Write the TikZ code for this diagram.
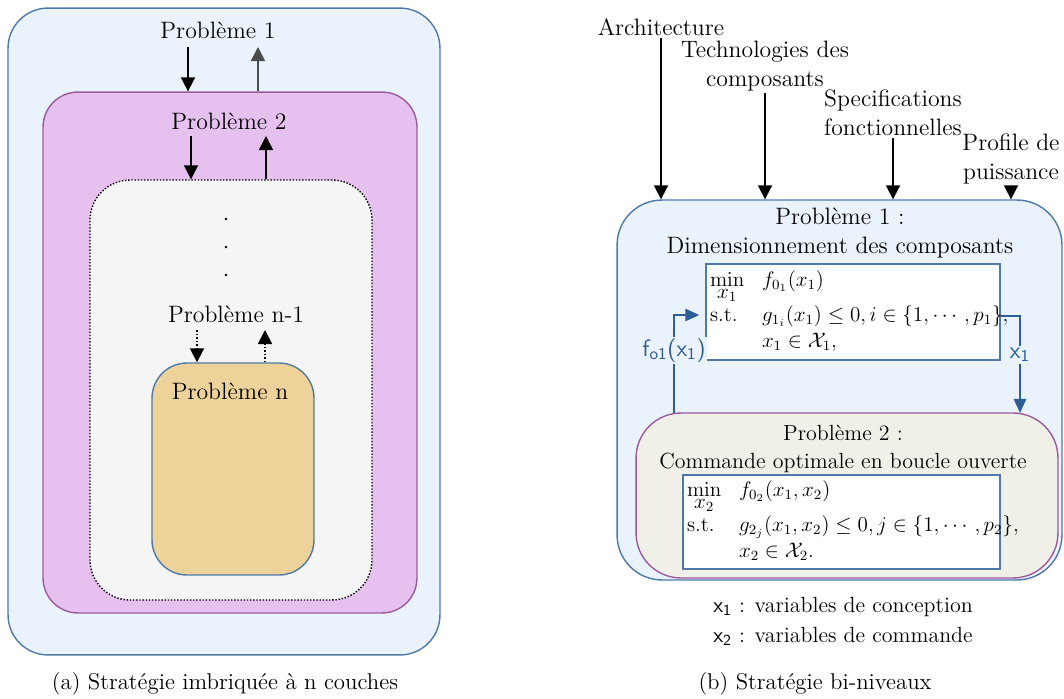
\documentclass[tikz,border=0pt]{standalone}
\usepackage{amsmath}
\usepackage{amssymb}
\usepackage{xcolor}
\usepackage{tikz}
\usetikzlibrary{arrows.meta, positioning, calc}
\definecolor{fondbleu}{HTML}{EAF2FC}
\definecolor{bordbleu}{HTML}{4F7AA8}
\definecolor{fondmauve}{HTML}{E6C1F0}
\definecolor{bordmauve}{HTML}{9C5B9E}
\definecolor{fondgris}{HTML}{F5F5F5}
\definecolor{fondsable}{HTML}{EDD399}
\definecolor{fondbeige}{HTML}{F1F0E8}
\definecolor{bleufleche}{HTML}{2E5E95}
\newcommand{\gtxt}{\fontsize{13.5}{16.5}\selectfont}
\newcommand{\ptxt}{\fontsize{12.5}{15.5}\selectfont}
\newcommand{\mtxt}{\fontsize{12}{14}\selectfont}

\begin{document}
\begin{tikzpicture}[x=0.02cm, y=-0.02cm,
  boite/.style={draw, line width=0.8pt, rounded corners=0.8cm, inner sep=0pt},
  optbox/.style={draw=bordbleu, fill=white, line width=0.8pt, inner sep=0.08cm, align=left, font=\mtxt},
  lbl/.style={font=\gtxt, inner sep=1pt},
  fleche/.style={-{Triangle[width=8pt,length=8pt]}, line width=1pt},
  flechebleue/.style={-{Triangle[width=7pt,length=8pt]}, line width=1pt, draw=bleufleche},
  lblbleu/.style={font=\sffamily\gtxt, text=bleufleche, fill=fondbleu, inner sep=1pt}]
\useasboundingbox (0,0) rectangle (1064,699);

% ---------- (a) nested strategy ----------
\node[boite, draw=bordbleu, fill=fondbleu, minimum width=8.64cm, minimum height=12.94cm] (n1) at (224,331.5) {};
\node[boite, draw=bordmauve, fill=fondmauve, minimum width=7.48cm, minimum height=10.42cm, rounded corners=0.7cm] (n2) at (230,352.5) {};
\node[boite, densely dotted, fill=fondgris, minimum width=5.64cm, minimum height=8.4cm] (nk) at (231,390) {};
\node[boite, draw=bordbleu, fill=fondsable, minimum width=3.24cm, minimum height=4.24cm, rounded corners=0.7cm] (nn) at (233,469) {};

\node[lbl] (p1) at (218,30) {Problème 1};
\node[lbl] (p2) at (229,121) {Problème 2};
\node[lbl] (pk) at (236,314) {Problème n-1};
\node[lbl] (pn) at (230,391) {Problème n};

% dots between layers
\foreach \y in {219,247,275}
  \fill (226,\y) circle (1.3);

% exchanges between layers
\coordinate (d1) at (188,47);
\coordinate (u1) at (258,47);
\coordinate (d2) at (191,136);
\coordinate (u2) at (266,136);
\coordinate (dk) at (197,330);
\coordinate (uk) at (265,330);
\draw[fleche] (d1) -- (d1 |- n2.north);
\draw[fleche, black!70] (u1 |- n2.north) -- (u1);
\draw[fleche] (d2) -- (d2 |- nk.north);
\draw[fleche] (u2 |- nk.north) -- (u2);
\draw[fleche, densely dotted] (dk) -- (dk |- nn.north);
\draw[fleche, densely dotted] (uk |- nn.north) -- (uk);

\node[lbl, font=\fontsize{13}{16}\selectfont] (capa) at (225,684) {(a) Stratégie imbriquée à n couches};

% ---------- (b) bi-level strategy ----------
\node[boite, draw=bordbleu, fill=fondbleu, minimum width=8.9cm, minimum height=7.6cm, rounded corners=0.9cm] (b1) at (839.5,390) {};
\node[boite, draw=bordmauve, fill=fondbeige, minimum width=8.44cm, minimum height=3.3cm, rounded corners=0.9cm] (b2) at (847,495.5) {};

\node[lbl, align=center] (t1) at (840,233) {Problème 1 :\\Dimensionnement des composants};
\node[lbl, align=center, font=\ptxt] (t2) at (843,449) {Problème 2 :\\Commande optimale en boucle ouverte};

\node[optbox, text width=5.72cm, minimum height=1.92cm] (opt1) at (853,312)
  {$\begin{array}{@{}l@{\hspace{10pt}}l}
   \min\limits_{\textstyle x_1} & f_{0_1}(x_1)\\[6pt]
   \text{s.t.} & g_{1_i}(x_1)\leq 0, i\in\{1,\cdots,p_1\},\\[1pt]
   & x_1\in\mathcal{X}_1,
  \end{array}$};
\node[optbox, text width=6.18cm, minimum height=1.8cm] (opt2) at (841.5,522)
  {$\begin{array}{@{}l@{\hspace{10pt}}l}
   \min\limits_{\textstyle x_2} & f_{0_2}(x_1,x_2)\\[5pt]
   \text{s.t.} & g_{2_j}(x_1,x_2)\leq 0, j\in\{1,\cdots,p_2\},\\[1pt]
   & x_2\in\mathcal{X}_2.
  \end{array}$};

% inputs of problem 1
\node[lbl] (arch) at (661,27) {Architecture};
\node[lbl, align=center] (tech) at (765,66) {Technologies des\\composants};
\node[lbl, align=center] (spec) at (893,113) {Specifications\\fonctionnelles};
\node[lbl, align=center] (prof) at (1011,159) {Profile de\\puissance};
\draw[fleche] (arch.south) -- (arch.south |- b1.north);
\draw[fleche] (tech.south) -- (tech.south |- b1.north);
\draw[fleche] (spec.south) -- (spec.south |- b1.north);
\draw[fleche] (prof.south) -- (prof.south |- b1.north);

% exchanges between the two levels
\coordinate (fb) at (674,413);
\coordinate (xs) at (1020,413);
\draw[flechebleue] (fb) |- ([xshift=-0.12cm,yshift=-0.06cm]opt1.west)
  node[lblbleu, pos=0.32] (lf) {f\textsubscript{o1}(x\textsubscript{1})};
\draw[flechebleue] ([yshift=-0.08cm]opt1.east) -| (xs)
  node[lblbleu, pos=0.7] (lx) {x\textsubscript{1}};

% legend
\node[lbl, font=\ptxt] (leg1) at (843,607) {\textsf{x\textsubscript{1}} : variables de conception};
\node[lbl, font=\ptxt] (leg2) at (843,636) {\textsf{x\textsubscript{2}} : variables de commande};

\node[lbl, font=\fontsize{13}{16}\selectfont] (capb) at (815,684) {(b) Stratégie bi-niveaux};
\end{tikzpicture}
\end{document}
